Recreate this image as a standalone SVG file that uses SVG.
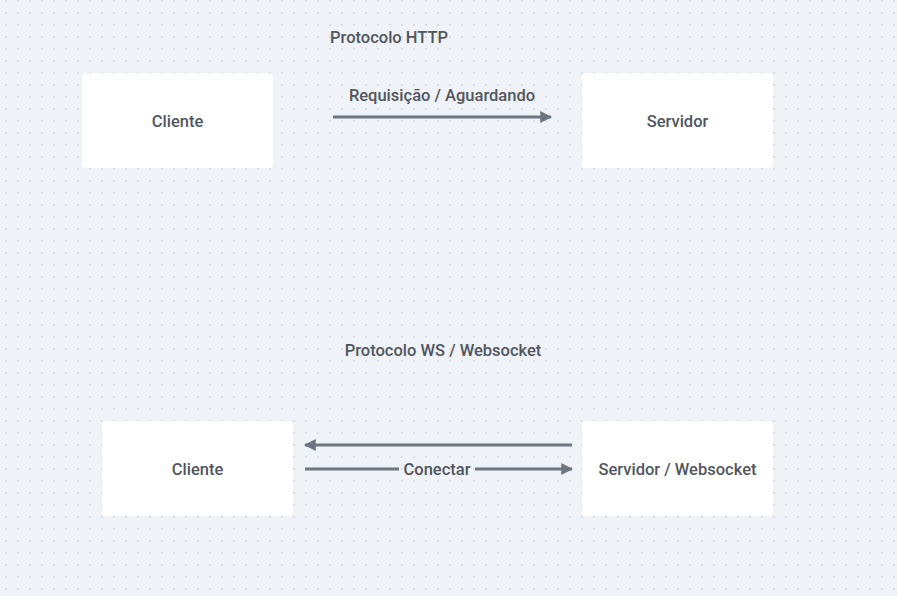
<svg xmlns="http://www.w3.org/2000/svg" width="897" height="596" viewBox="0 0 897 596">
<style>
.node rect{fill:#ffffff;}
.t{font-family:Roboto,"Liberation Sans",Arial,sans-serif;font-size:16.5px;font-weight:500;fill:#51565e;}
.c{text-anchor:middle;}
.edge{stroke:#6c7580;stroke-width:3;fill:none;}
</style>
<defs>
<pattern id="grid" x="0" y="0" width="12" height="12" patternUnits="userSpaceOnUse">
<circle cx="6" cy="1" r="0.9" fill="#cdd2d9"/>
</pattern>
<marker id="ah" viewBox="0 0 10 10" refX="9" refY="5" markerWidth="4" markerHeight="4" orient="auto-start-reverse" markerUnits="strokeWidth">
<path d="M0,0 L10,5 L0,10 Z" fill="#6c7580"/>
</marker>
</defs>
<rect width="897" height="596" fill="#eff2f6"/>
<rect width="897" height="596" fill="url(#grid)"/>
<text class="t" x="330" y="43">Protocolo HTTP</text>
<text class="t c" x="443" y="356">Protocolo WS / Websocket</text>
<g id="edges">
<line class="edge" x1="333" y1="117" x2="551" y2="117" marker-end="url(#ah)"/>
<text class="t c" x="442" y="101">Requisição / Aguardando</text>
<line class="edge" x1="572" y1="445" x2="305" y2="445" marker-end="url(#ah)"/>
<line class="edge" x1="305" y1="469" x2="399" y2="469"/>
<line class="edge" x1="475" y1="469" x2="572" y2="469" marker-end="url(#ah)"/>
<text class="t c" x="437" y="475">Conectar</text>
</g>
<g id="cliente-http" class="node">
<rect x="82" y="73" width="191" height="95" rx="3"/>
<text class="t c" x="177.5" y="127">Cliente</text>
</g>
<g id="servidor-http" class="node">
<rect x="582" y="73" width="191" height="95" rx="3"/>
<text class="t c" x="677.5" y="127">Servidor</text>
</g>
<g id="cliente-ws" class="node">
<rect x="102" y="421" width="191" height="95" rx="3"/>
<text class="t c" x="197.5" y="475">Cliente</text>
</g>
<g id="servidor-ws" class="node">
<rect x="582" y="421" width="191" height="95" rx="3"/>
<text class="t c" x="677.5" y="475">Servidor / Websocket</text>
</g>
</svg>
